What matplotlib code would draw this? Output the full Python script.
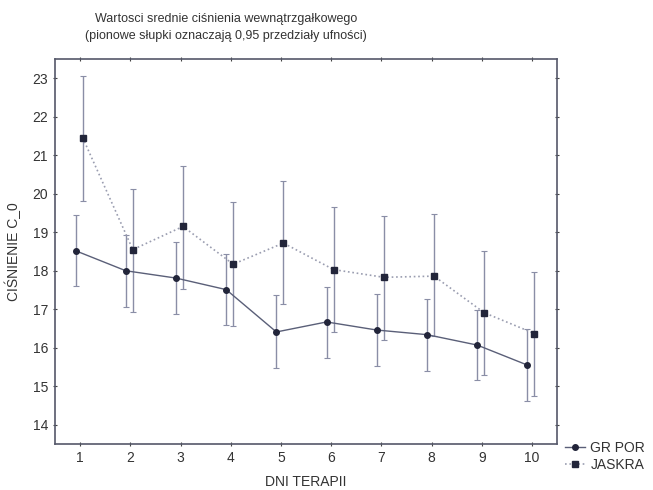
import numpy as np
import matplotlib
matplotlib.use("Agg")
import matplotlib.pyplot as plt

plt.rcParams['font.family'] = ['Liberation Sans', 'DejaVu Sans']

# dni terapii
days = np.arange(1, 11)

# GR POR: srednia i granice 95% przedzialu ufnosci
gr_mean = [18.52, 18.00, 17.81, 17.51, 16.41, 16.67, 16.46, 16.34, 16.07, 15.55]
gr_low = [17.60, 17.06, 16.87, 16.59, 15.48, 15.73, 15.53, 15.40, 15.15, 14.61]
gr_high = [19.46, 18.94, 18.74, 18.43, 17.36, 17.59, 17.40, 17.26, 16.98, 16.48]

# JASKRA
ja_mean = [21.46, 18.55, 19.15, 18.17, 18.72, 18.03, 17.83, 17.86, 16.91, 16.37]
ja_low = [19.82, 16.92, 17.52, 16.57, 17.13, 16.41, 16.20, 16.30, 15.29, 14.74]
ja_high = [23.06, 20.13, 20.73, 19.78, 20.34, 19.65, 19.43, 19.48, 18.52, 17.96]

line_col = '#5a5f78'
bar_col = '#8a8ea6'
mark_col = '#22253a'

fig = plt.figure(figsize=(6.53, 4.9), dpi=100)
ax = fig.add_axes([55 / 653, 1 - 444 / 490, 502 / 653, 385 / 490])

gr_m = np.array(gr_mean)
ja_m = np.array(ja_mean)
gr_err = [gr_m - np.array(gr_low), np.array(gr_high) - gr_m]
ja_err = [ja_m - np.array(ja_low), np.array(ja_high) - ja_m]

ax.errorbar(days - 0.09, gr_m, yerr=gr_err, fmt='none', ecolor=bar_col,
            elinewidth=1.0, capsize=2.5, capthick=0.8, zorder=2)
ax.errorbar(days + 0.05, ja_m, yerr=ja_err, fmt='none', ecolor=bar_col,
            elinewidth=1.0, capsize=2.5, capthick=0.8, zorder=2)
ax.plot(days - 0.09, gr_m, '-', color=line_col, lw=1.0, marker='o', ms=4,
        mfc=mark_col, mec=mark_col, label='GR POR', zorder=3)
ax.plot(days + 0.05, ja_m, ':', color='#9a9db0', lw=1.2, marker='s', ms=4.5,
        mfc=mark_col, mec=mark_col, label='JASKRA', zorder=3)

ax.set_xlim(0.5, 10.5)
ax.set_ylim(13.5, 23.5)
ax.set_xticks(days)
ax.set_yticks(range(14, 24))
ax.tick_params(axis='both', labelsize=10, colors='#444444', length=3,
               direction='inout', top=True, right=True, labelcolor='#333333')
for s in ax.spines.values():
    s.set_color('#55586a')
    s.set_linewidth(1.2)

ax.set_xlabel('DNI TERAPII', fontsize=10, color='#333333', labelpad=7)
ax.set_ylabel('CIŚNIENIE C_0', fontsize=10, color='#333333', labelpad=8)

fig.text(226 / 653, 1 - 19 / 490, 'Wartosci srednie ciśnienia wewnątrzgałkowego',
         ha='center', va='center', fontsize=9, color='#333333')
fig.text(226 / 653, 1 - 36 / 490, '(pionowe słupki oznaczają 0,95 przedziały ufności)',
         ha='center', va='center', fontsize=9, color='#333333')

ax.legend(loc='upper left', bbox_to_anchor=(1.0, 0.03), frameon=False,
          fontsize=10, handlelength=1.4, handletextpad=0.4, labelspacing=0.2,
          borderaxespad=0.2, labelcolor='#333333')

fig.savefig('out.png', dpi=100)
